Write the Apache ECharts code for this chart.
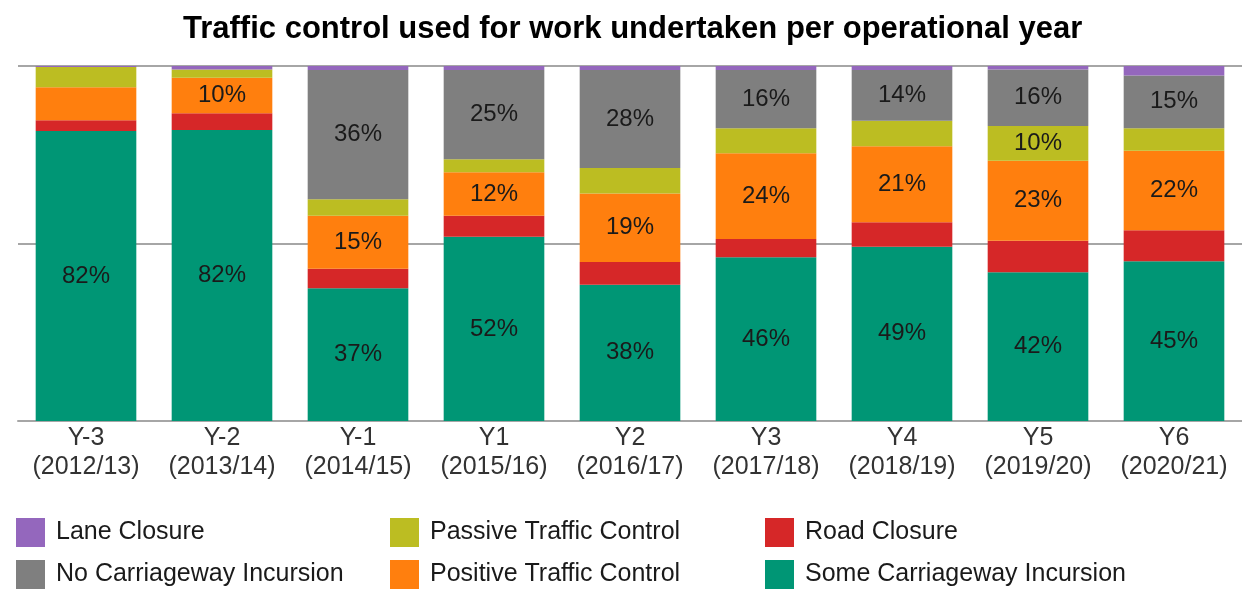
<!DOCTYPE html>
<html>
<head>
<meta charset="utf-8">
<script src="https://cdn.jsdelivr.net/npm/echarts@6/dist/echarts.min.js"></script>
<style>
  html, body { margin: 0; padding: 0; background: #fff; }
  #chart { width: 1242px; height: 589px; }
</style>
</head>
<body>
<div id="chart"></div>
<script>
// categories (two-line axis labels)
var years = ['Y-3\n(2012/13)', 'Y-2\n(2013/14)', 'Y-1\n(2014/15)', 'Y1\n(2015/16)', 'Y2\n(2016/17)',
             'Y3\n(2017/18)', 'Y4\n(2018/19)', 'Y5\n(2019/20)', 'Y6\n(2020/21)'];

// shares in %, bottom of stack first
var someIncursion = [81.7, 82.0, 37.4, 51.9, 38.4, 46.1, 49.1, 41.9, 45.0];
var roadClosure   = [3.0, 4.7, 5.5, 5.9, 6.4, 5.2, 6.9, 8.9, 8.7];
var positiveTC    = [9.3, 10.0, 14.9, 12.3, 19.3, 24.1, 21.4, 22.5, 22.4];
var passiveTC     = [5.7, 2.3, 4.7, 3.6, 7.2, 7.1, 7.2, 9.8, 6.4];
var noIncursion   = [0, 0, 36.4, 25.2, 27.6, 16.4, 14.3, 15.9, 14.8];
var laneClosure   = [0.3, 1.0, 1.1, 1.1, 1.1, 1.1, 1.1, 1.0, 2.7];

var yTicks = [0, 50, 100];

var chart = echarts.init(document.getElementById('chart'));

var FONT = '"Liberation Sans", Arial, sans-serif';

function bar(name, data, color) {
    return {
        name: name,
        type: 'bar',
        stack: 'total',
        barWidth: '74%',
        data: data,
        itemStyle: { color: color },
        label: {
            show: true,
            position: 'inside',
            fontFamily: FONT,
            fontSize: 24,
            color: '#1a1a1a',
            formatter: function (p) {
                var v = Math.round(p.value);
                return v >= 10 ? v + '%' : '';
            }
        },
        emphasis: { disabled: true }
    };
}

function legendCol(left, names) {
    return {
        orient: 'vertical',
        left: left,
        top: 518,
        padding: 0,
        itemWidth: 29,
        itemHeight: 29,
        itemGap: 13,
        icon: 'rect',
        selectedMode: false,
        data: names,
        textStyle: {
            fontFamily: FONT,
            fontSize: 25,
            color: '#1a1a1a',
            padding: [0, 0, 0, 6]
        }
    };
}

var option = {
    animation: false,
    title: {
        text: 'Traffic control used for work undertaken per operational year',
        left: 183,
        top: 14,
        padding: 0,
        textStyle: {
            fontFamily: FONT,
            fontSize: 31,
            fontWeight: 'bold',
            color: '#000'
        }
    },
    legend: [
        legendCol(16, ['Lane Closure', 'No Carriageway Incursion']),
        legendCol(390, ['Passive Traffic Control', 'Positive Traffic Control']),
        legendCol(765, ['Road Closure', 'Some Carriageway Incursion'])
    ],
    grid: { left: 18, right: 0, top: 66, bottom: 168, containLabel: false },
    xAxis: {
        type: 'category',
        data: years,
        axisTick: { show: false },
        axisLine: { lineStyle: { color: '#a6a6a6', width: 2 } },
        axisLabel: {
            fontFamily: FONT,
            fontSize: 25,
            lineHeight: 29,
            color: '#333',
            margin: 3,
            interval: 0
        }
    },
    yAxis: {
        type: 'value',
        min: yTicks[0],
        max: yTicks[yTicks.length - 1],
        interval: 50,
        axisLabel: { show: false },
        axisLine: { show: false },
        axisTick: { show: false },
        splitLine: { lineStyle: { color: '#a6a6a6', width: 2 } }
    },
    series: [
        bar('Some Carriageway Incursion', someIncursion, '#009675'),
        bar('Road Closure', roadClosure, '#d62728'),
        bar('Positive Traffic Control', positiveTC, '#ff7f0e'),
        bar('Passive Traffic Control', passiveTC, '#bcbd22'),
        bar('No Carriageway Incursion', noIncursion, '#7f7f7f'),
        bar('Lane Closure', laneClosure, '#9467bd')
    ]
};

chart.setOption(option, true);
</script>
</body>
</html>
